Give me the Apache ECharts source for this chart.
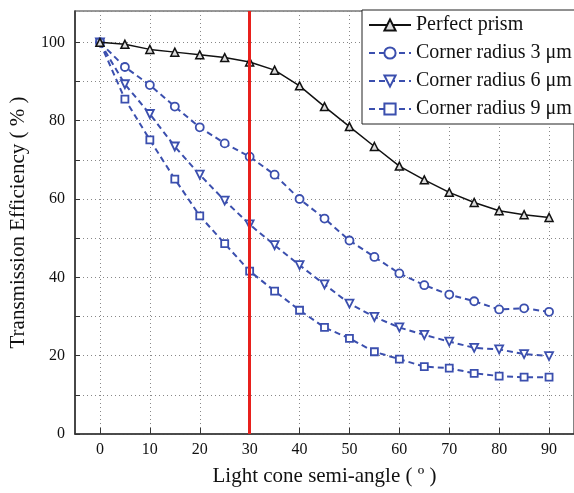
<!DOCTYPE html>
<html>
<head>
<meta charset="utf-8">
<script src="https://cdn.jsdelivr.net/npm/echarts@6/dist/echarts.min.js"></script>
<style>html,body{margin:0;padding:0;background:#fff;}#c{width:574px;height:493px;}</style>
</head>
<body>
<div id="c"></div>
<script>
const angles = [0,5,10,15,20,25,30,35,40,45,50,55,60,65,70,75,80,85,90];
const perfectPrism = [100,99.5,98.2,97.5,96.8,96.1,95.0,92.9,88.9,83.6,78.5,73.4,68.4,64.9,61.7,59.1,57.0,56.0,55.3];
const radius3 = [100,93.7,89.1,83.6,78.3,74.2,70.8,66.2,60.0,55.0,49.4,45.2,41.0,38.0,35.6,33.9,31.8,32.1,31.2];
const radius6 = [100,89.3,81.7,73.4,66.2,59.6,53.5,48.2,43.1,38.2,33.3,29.9,27.2,25.3,23.6,22.0,21.6,20.4,19.9];
const radius9 = [100,85.5,75.1,65.1,55.7,48.6,41.6,36.5,31.6,27.2,24.4,21.0,19.1,17.2,16.8,15.5,14.8,14.5,14.5];
const seriesNames = ['Perfect prism','Corner radius 3 \u03bcm','Corner radius 6 \u03bcm','Corner radius 9 \u03bcm'];
const xTicks = [0,10,20,30,40,50,60,70,80,90];
const yTickLabels = [0,20,40,60,80,100];
const markerAngle = 30;

const font = 'Liberation Serif';
const blue = '#3b4fae';
function pts(arr){ return angles.map((a,i)=>[a,arr[i]]); }

const chart = echarts.init(document.getElementById('c'), null, {renderer:'canvas'});
const dashedSeries = (name, data, symbol, rotate) => ({
  name, type:'line', data: pts(data), symbol, symbolSize: symbol==='rect'?7:8, symbolRotate: rotate||0,
  lineStyle:{color:blue, width:2, type:[6,4]},
  itemStyle:{color:'#fff', borderColor:blue, borderWidth:1.8},
  z:3
});
chart.setOption({
  animation:false,
  backgroundColor:'#fff',
  grid:{left:74, top:11, bottom:59, right:-7, show:true, borderColor:'#333', borderWidth:1.2, backgroundColor:'transparent'},
  legend:{
    orient:'vertical', left:362, top:10, backgroundColor:'#fff', borderColor:'#222', borderWidth:1,
    padding:[5,8,5,6], itemWidth:42, itemHeight:14, itemGap:8,
    textStyle:{fontFamily:font, fontSize:20, color:'#111'},
    data: seriesNames
  },
  xAxis:{
    type:'value', min:-5, max:95,
    name:'Light cone semi-angle ( \u00ba )', nameLocation:'middle', nameGap:32,
    nameTextStyle:{fontFamily:font, fontSize:21, color:'#111'},
    axisLine:{show:true, onZero:false, lineStyle:{color:'#333', width:1.5}},
    axisTick:{show:true, inside:true, length:6, lineStyle:{color:'#333'}, customValues: xTicks},
    axisLabel:{fontFamily:font, fontSize:16, color:'#111', margin:8, customValues: xTicks},
    splitLine:{show:true, lineStyle:{color:'#888', type:[1,3], width:1}}
  },
  yAxis:{
    type:'value', min:0, max:108, interval:10,
    name:'Transmission Efficiency ( % )', nameLocation:'middle', nameGap:46,
    nameTextStyle:{fontFamily:font, fontSize:21, color:'#111'},
    axisLine:{show:true, onZero:false, lineStyle:{color:'#333', width:1.5}},
    axisTick:{show:true, inside:true, length:5, lineStyle:{color:'#333'}},
    axisLabel:{fontFamily:font, fontSize:16, color:'#111', margin:10, showMaxLabel:false,
      formatter: v => yTickLabels.indexOf(v) >= 0 ? String(v) : ''},
    splitLine:{show:true, lineStyle:{color:'#888', type:[1,3], width:1}}
  },
  series:[
    {
      name:seriesNames[0], type:'line', data: pts(perfectPrism), symbol:'triangle', symbolSize:8,
      lineStyle:{color:'#111', width:1.5},
      itemStyle:{color:'#ddd', borderColor:'#111', borderWidth:1.5},
      z:4,
      markLine:{
        silent:true, symbol:'none', label:{show:false},
        lineStyle:{color:'#e8201c', width:3, type:'solid'},
        data:[{xAxis:markerAngle}],
        z:5
      }
    },
    dashedSeries(seriesNames[1], radius3, 'circle'),
    dashedSeries(seriesNames[2], radius6, 'triangle', 180),
    dashedSeries(seriesNames[3], radius9, 'rect')
  ]
});
</script>
</body>
</html>
